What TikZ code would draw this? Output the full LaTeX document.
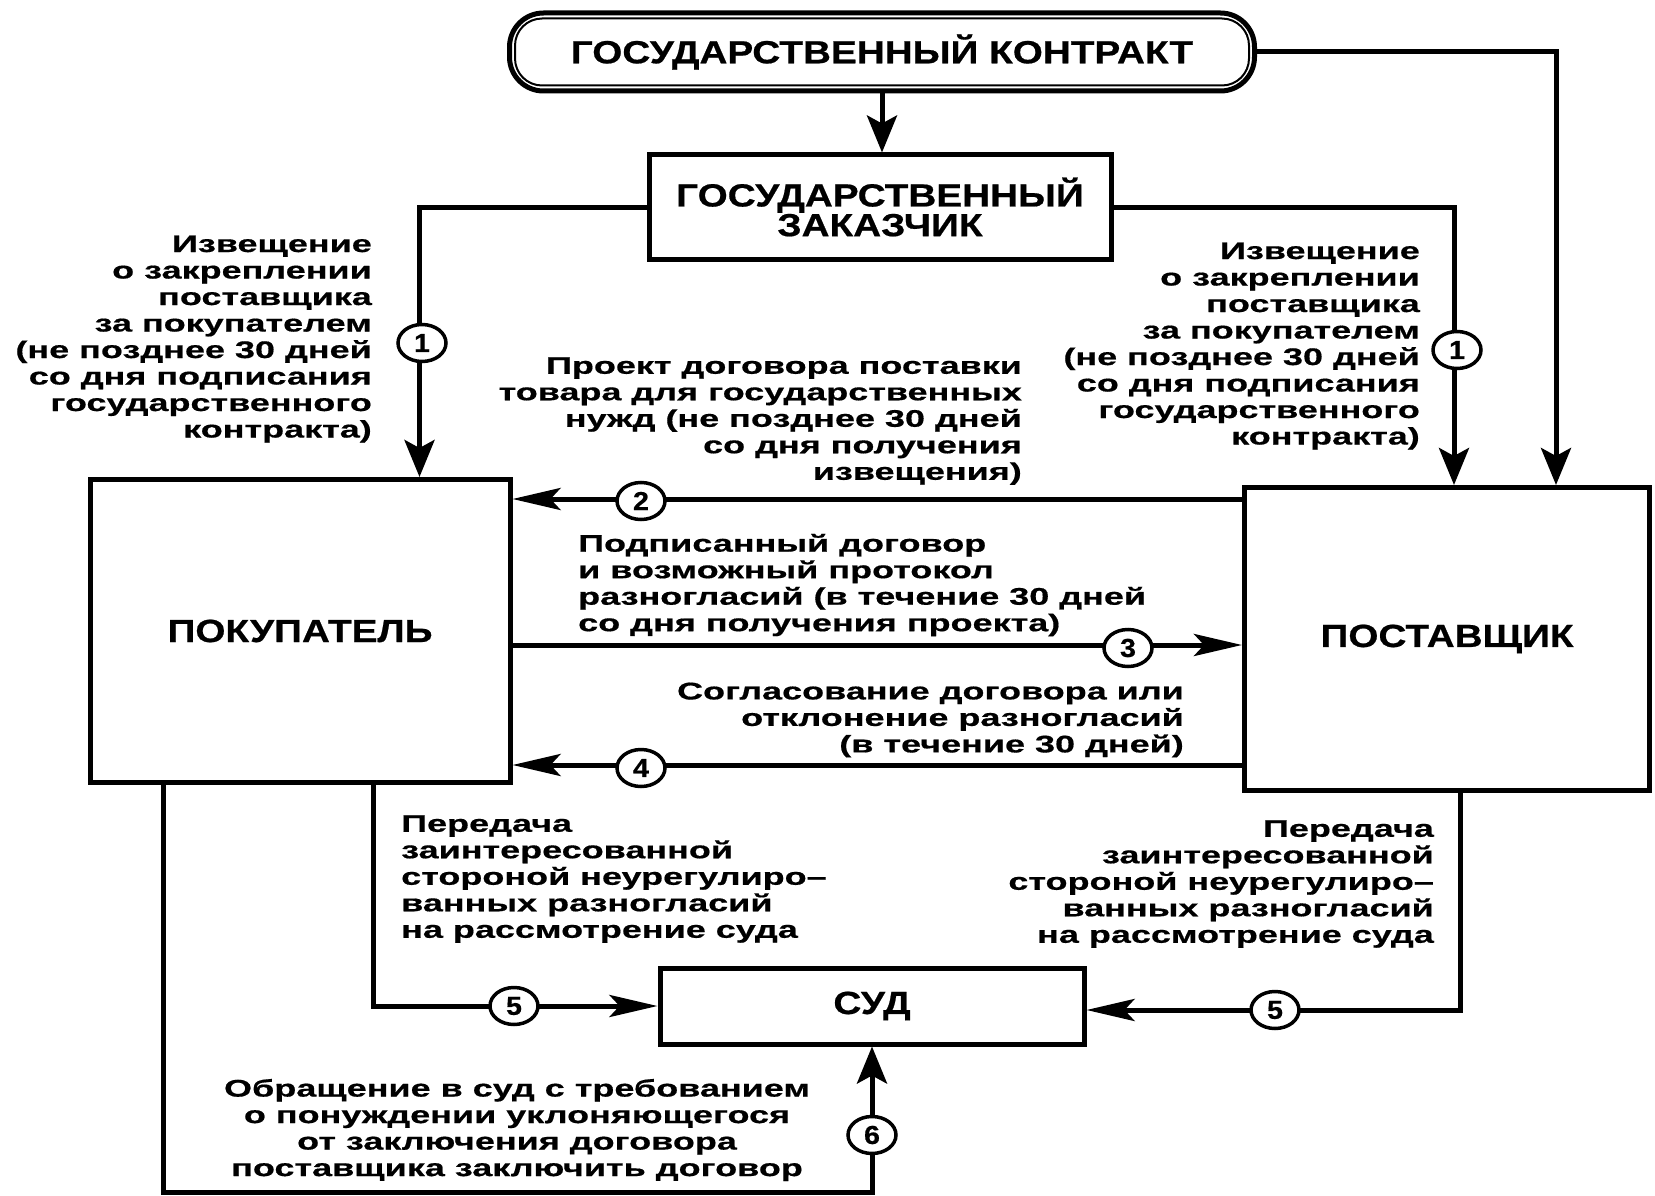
\documentclass[tikz,border=0pt]{standalone}
\usepackage{fontspec}
\newfontfamily\lblfont{Liberation Sans Bold}[FakeStretch=1.5,FakeBold=0.6]
\newfontfamily\ttlfont{Liberation Sans Bold}[FakeStretch=1.21,FakeBold=0.6]
\newfontfamily\numfont{Liberation Sans Bold}[FakeStretch=1.1,FakeBold=0.6]
\usetikzlibrary{arrows.meta,calc,shapes.geometric}
\begin{document}
\begin{tikzpicture}[x=1pt,y=-1pt,
  every node/.style={inner sep=0pt},
  ln/.style={line width=5pt},
  hat/.style={-{Stealth[length=48pt,width=22pt,inset=10pt]}},
  vat/.style={-{Stealth[length=37pt,width=30pt,inset=8pt]}},
  boxn/.style={draw, line width=5pt, fill=white, align=center,
    font=\ttlfont\fontsize{32}{27}\selectfont},
  lbl/.style={align=right, font=\lblfont\fontsize{24}{26.5}\selectfont},
  num/.style={ellipse, draw, line width=3.5pt, fill=white,
    minimum width=48pt, minimum height=37pt,
    font=\numfont\fontsize{26}{26}\selectfont}
]
\useasboundingbox (0,0) rectangle (1655,1196);

% boxes
\node[boxn, rounded corners=34pt, minimum width=745pt, minimum height=78pt] (contract) at (882,52) {ГОСУДАРСТВЕННЫЙ КОНТРАКТ};
\draw[line width=2pt, rounded corners=27pt] ($(contract.north west)+(8,8)$) rectangle ($(contract.south east)+(-8,-8)$);
\node[boxn, minimum width=462pt, minimum height=104pt] (zak) at (880,207) {ГОСУДАРСТВЕННЫЙ\\ЗАКАЗЧИК};
\node[boxn, minimum width=420pt, minimum height=303pt] (buy) at (300,631) {ПОКУПАТЕЛЬ};
\node[boxn, minimum width=405pt, minimum height=303pt] (sup) at (1447,639) {ПОСТАВЩИК};
\node[boxn, minimum width=424pt, minimum height=76pt] (sud) at (872,1006) {СУД};

% connectors
\draw[ln, vat] (contract.south) -- (contract.south |- zak.north);
\draw[ln, vat] (zak.west) -| ($(buy.north west)+(332,0)$);
\draw[ln, vat] (zak.east) -| ($(sup.north west)+(212,0)$);
\draw[ln, vat] (contract.east) -| ($(sup.north west)+(314,0)$);

\coordinate (p2) at ($(sup.north west)+(0,14)$);
\coordinate (p3) at ($(buy.north east)+(0,168)$);
\coordinate (p4) at ($(sup.north west)+(0,280)$);
\draw[ln, hat] (p2) -- (buy.east |- p2);
\draw[ln, hat] (p3) -- (sup.west |- p3);
\draw[ln, hat] (p4) -- (buy.east |- p4);

\draw[ln, hat] ($(buy.south west)+(286,0)$) |- (sud.west);
\draw[ln, hat] ($(sup.south west)+(218,0)$) |- ($(sud.east)+(0,4)$);
\path (sud.south) ++(0,146) coordinate (b6);
\draw[ln, vat] ($(buy.south west)+(76,0)$) |- (b6) -- (sud.south);

% number marks
\node[num] (n1a) at (422,343) {1};
\node[num] (n1b) at (1457,350) {1};
\node[num] (n2) at (641,501) {2};
\node[num] (n3) at (1128,648) {3};
\node[num] (n4) at (641,768) {4};
\node[num] (n5a) at (514,1006) {5};
\node[num] (n5b) at (1275,1010) {5};
\node[num] (n6) at (872,1135) {6};

% labels
\node[lbl, anchor=east] (t1a) at (372,339) {Извещение\\о закреплении\\поставщика\\за покупателем\\(не позднее 30 дней\\со дня подписания\\государственного\\контракта)};
\node[lbl, anchor=east] (t1b) at (1420,346) {Извещение\\о закреплении\\поставщика\\за покупателем\\(не позднее 30 дней\\со дня подписания\\государственного\\контракта)};
\node[lbl, anchor=east] (t2) at (1022,421) {Проект договора поставки\\товара для государственных\\нужд (не позднее 30 дней\\со дня получения\\извещения)};
\node[lbl, align=left, anchor=west] (t3) at (578,585) {Подписанный договор\\и возможный протокол\\разногласий (в течение 30 дней\\со дня получения проекта)};
\node[lbl, anchor=east] (t4) at (1184,720) {Согласование договора или\\отклонение разногласий\\(в течение 30 дней)};
\node[lbl, align=left, anchor=west] (t5a) at (401,879) {Передача\\заинтересованной\\стороной неурегулиро–\\ванных разногласий\\на рассмотрение суда};
\node[lbl, anchor=east] (t5b) at (1434,884) {Передача\\заинтересованной\\стороной неурегулиро–\\ванных разногласий\\на рассмотрение суда};
\node[lbl, align=center] (t6) at (517,1130) {Обращение в суд с требованием\\о понуждении уклоняющегося\\от заключения договора\\поставщика заключить договор};
\end{tikzpicture}
\end{document}
